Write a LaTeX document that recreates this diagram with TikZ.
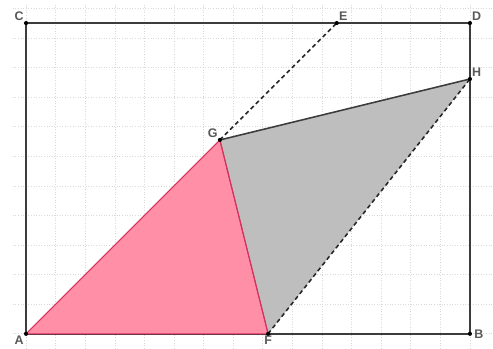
\documentclass[tikz,border=0pt]{standalone}
\usepackage{fontspec}
\setmainfont{Liberation Sans}
\usepackage{xcolor}
\definecolor{pinkfill}{RGB}{255,143,166}
\definecolor{pinkedge}{RGB}{214,48,92}
\definecolor{grayfill}{RGB}{190,190,190}
\definecolor{lineclr}{RGB}{60,60,60}

\begin{document}
\begin{tikzpicture}[
    every label/.style={font=\fontsize{12}{14}\selectfont\bfseries, text=lineclr!85, inner sep=2pt},
    gridline/.style={gray!30, line width=0.6pt, dash pattern=on 1pt off 1.5pt},
    frame/.style={lineclr, line width=1.5pt},
    fold/.style={black!85, line width=1.5pt, dash pattern=on 4pt off 3pt},
    pinktri/.style={fill=pinkfill, draw=pinkedge, line width=1pt, line join=round},
    graytri/.style={fill=grayfill},
    dot/.style={circle, fill=black, inner sep=0pt, minimum size=4pt}
]
\useasboundingbox (-0.88,-0.51) rectangle (15.78,11.28);
% Grid
\foreach \x in {0,...,15} \draw[gridline] (\x,-0.51) -- (\x,11.1);
\foreach \y in {0,...,11} \draw[gridline] (-0.45,\y) -- (15.78,\y);
% Points
\coordinate[label={above left:C}] (C) at (0,10.5);
\coordinate[label={above right:D}] (D) at (15,10.5);
\coordinate[label={above right:E}] (E) at (10.5,10.5);
\coordinate[label={below left:A}] (A) at (0,0);
\coordinate[label={[label distance=2pt]right:B}] (B) at (15,0);
\coordinate[label={below:F}] (F) at (8.18,0);
\coordinate[label={above left:G}] (G) at (6.55,6.55);
\coordinate[label={above right:H}] (H) at (15,8.61);
% Shaded triangles
\fill[graytri] (G) -- (F) -- (H) -- cycle;
\draw[frame] (A) -- (B) -- (D) -- (C) -- cycle;
\draw[pinktri] (A) -- (F) -- (G) -- cycle;
\draw[frame] (G) -- (H);
\draw[fold] (G) -- (E);
\draw[fold] (F) -- (H);
\draw[pinkedge, line width=1pt] (F) -- (G);
% Dots
\foreach \p in {A,B,C,D,E,F,G,H} \node[dot] (dot\p) at (\p) {};
\end{tikzpicture}
\end{document}
